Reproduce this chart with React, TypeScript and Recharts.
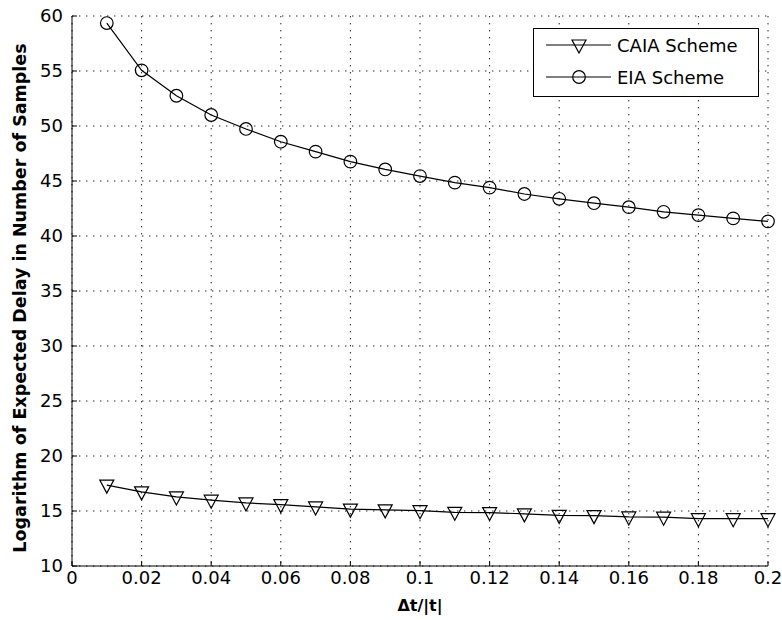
import { LineChart, Line, XAxis, YAxis, CartesianGrid, Legend } from 'recharts'

const deltaT = [0.01, 0.02, 0.03, 0.04, 0.05, 0.06, 0.07, 0.08, 0.09, 0.1, 0.11, 0.12, 0.13, 0.14, 0.15, 0.16, 0.17, 0.18, 0.19, 0.2]
const caiaDelay = [17.35, 16.74, 16.28, 15.98, 15.73, 15.58, 15.37, 15.17, 15.1, 15.03, 14.88, 14.86, 14.74, 14.6, 14.58, 14.46, 14.44, 14.3, 14.3, 14.3]
const eiaDelay = [59.36, 55.06, 52.75, 51.0, 49.73, 48.57, 47.67, 46.76, 46.05, 45.45, 44.85, 44.4, 43.82, 43.38, 42.98, 42.62, 42.2, 41.9, 41.6, 41.33]

const xTicks = [0, 0.02, 0.04, 0.06, 0.08, 0.1, 0.12, 0.14, 0.16, 0.18, 0.2]
const yTicks = [10, 15, 20, 25, 30, 35, 40, 45, 50, 55, 60]

const FONT = '"DejaVu Sans", sans-serif'
const INK = '#000'

const data = deltaT.map((x, i) => ({ x, caia: caiaDelay[i], eia: eiaDelay[i] }))

// MATLAB 'v' marker: open, line crosses near the top third
function Triangle({ cx, cy }: { cx: number; cy: number }) {
  return (
    <path
      d={`M${cx - 7},${cy - 5} L${cx + 7},${cy - 5} L${cx},${cy + 8} Z`}
      fill="none"
      stroke={INK}
      strokeWidth={1.2}
    />
  )
}

function Ring({ cx, cy }: { cx: number; cy: number }) {
  return <circle cx={cx} cy={cy} r={6.3} fill="none" stroke={INK} strokeWidth={1.2} />
}

const markers: Record<string, (p: { cx: number; cy: number }) => JSX.Element> = {
  caia: Triangle,
  eia: Ring,
}

function LegendBox({ payload }: { payload?: any[] }) {
  const rows = payload ?? []
  return (
    <svg width={226} height={69} style={{ display: 'block' }}>
      <rect x={0.5} y={0.5} width={225} height={68} fill="#fff" stroke={INK} />
      {rows.map((entry, i) => {
        const y = 17 + i * 32
        const Marker = markers[entry.dataKey as string]
        return (
          <g key={entry.value}>
            <line x1={13} x2={78} y1={y} y2={y} stroke={INK} strokeWidth={1.2} />
            {Marker && <Marker cx={46} cy={y} />}
            <text x={84} y={y} dominantBaseline="central" fontFamily={FONT} fontSize={18} fill={INK}>
              {entry.value}
            </text>
          </g>
        )
      })}
    </svg>
  )
}

export default function App() {
  const tickStyle = { fontFamily: FONT, fontSize: 18, fill: INK }
  return (
    <div style={{ position: 'absolute', left: 0, top: 0, background: '#fff' }}>
      <LineChart width={782} height={620} data={data} margin={{ top: 16, right: 14, bottom: 0, left: 0 }}>
        <CartesianGrid stroke="#222" strokeDasharray="1.4 5.6" strokeWidth={1} />
        <XAxis
          dataKey="x"
          type="number"
          domain={[0, 0.2]}
          ticks={xTicks}
          interval={0}
          height={54}
          stroke={INK}
          tickSize={-5}
          tickMargin={10}
          tick={tickStyle}
          label={{
            value: 'Δt/|t|',
            position: 'insideBottom',
            offset: 9,
            style: { fontFamily: FONT, fontSize: 16, fontWeight: 'bold', fill: INK },
          }}
        />
        <XAxis
          xAxisId="top"
          orientation="top"
          type="number"
          domain={[0, 0.2]}
          ticks={xTicks}
          interval={0}
          height={0}
          stroke={INK}
          tickSize={-5}
          tick={false}
        />
        <YAxis
          type="number"
          domain={[10, 60]}
          ticks={yTicks}
          interval={0}
          width={72}
          stroke={INK}
          tickSize={-5}
          tickMargin={14}
          tick={tickStyle}
          label={{
            value: 'Logarithm of Expected Delay in Number of Samples',
            angle: -90,
            position: 'center',
            dx: -16,
            dy: 7,
            style: { fontFamily: FONT, fontSize: 17.5, fontWeight: 'bold', fill: INK },
          }}
        />
        <YAxis
          yAxisId="right"
          orientation="right"
          type="number"
          domain={[10, 60]}
          ticks={yTicks}
          interval={0}
          width={0}
          stroke={INK}
          tickSize={-5}
          tick={false}
        />
        <Legend
          layout="vertical"
          align="center"
          verticalAlign="middle"
          wrapperStyle={{ position: 'absolute', left: 533, top: 28, width: 226, height: 69 }}
          content={(props: any) => <LegendBox payload={props.payload} />}
        />
        <Line
          name="CAIA Scheme"
          dataKey="caia"
          stroke={INK}
          strokeWidth={1.2}
          dot={(p: any) => <Triangle key={`c${p.index}`} cx={p.cx} cy={p.cy} />}
          activeDot={false}
          isAnimationActive={false}
        />
        <Line
          name="EIA Scheme"
          dataKey="eia"
          stroke={INK}
          strokeWidth={1.2}
          dot={(p: any) => <Ring key={`e${p.index}`} cx={p.cx} cy={p.cy} />}
          activeDot={false}
          isAnimationActive={false}
        />
      </LineChart>
    </div>
  )
}
